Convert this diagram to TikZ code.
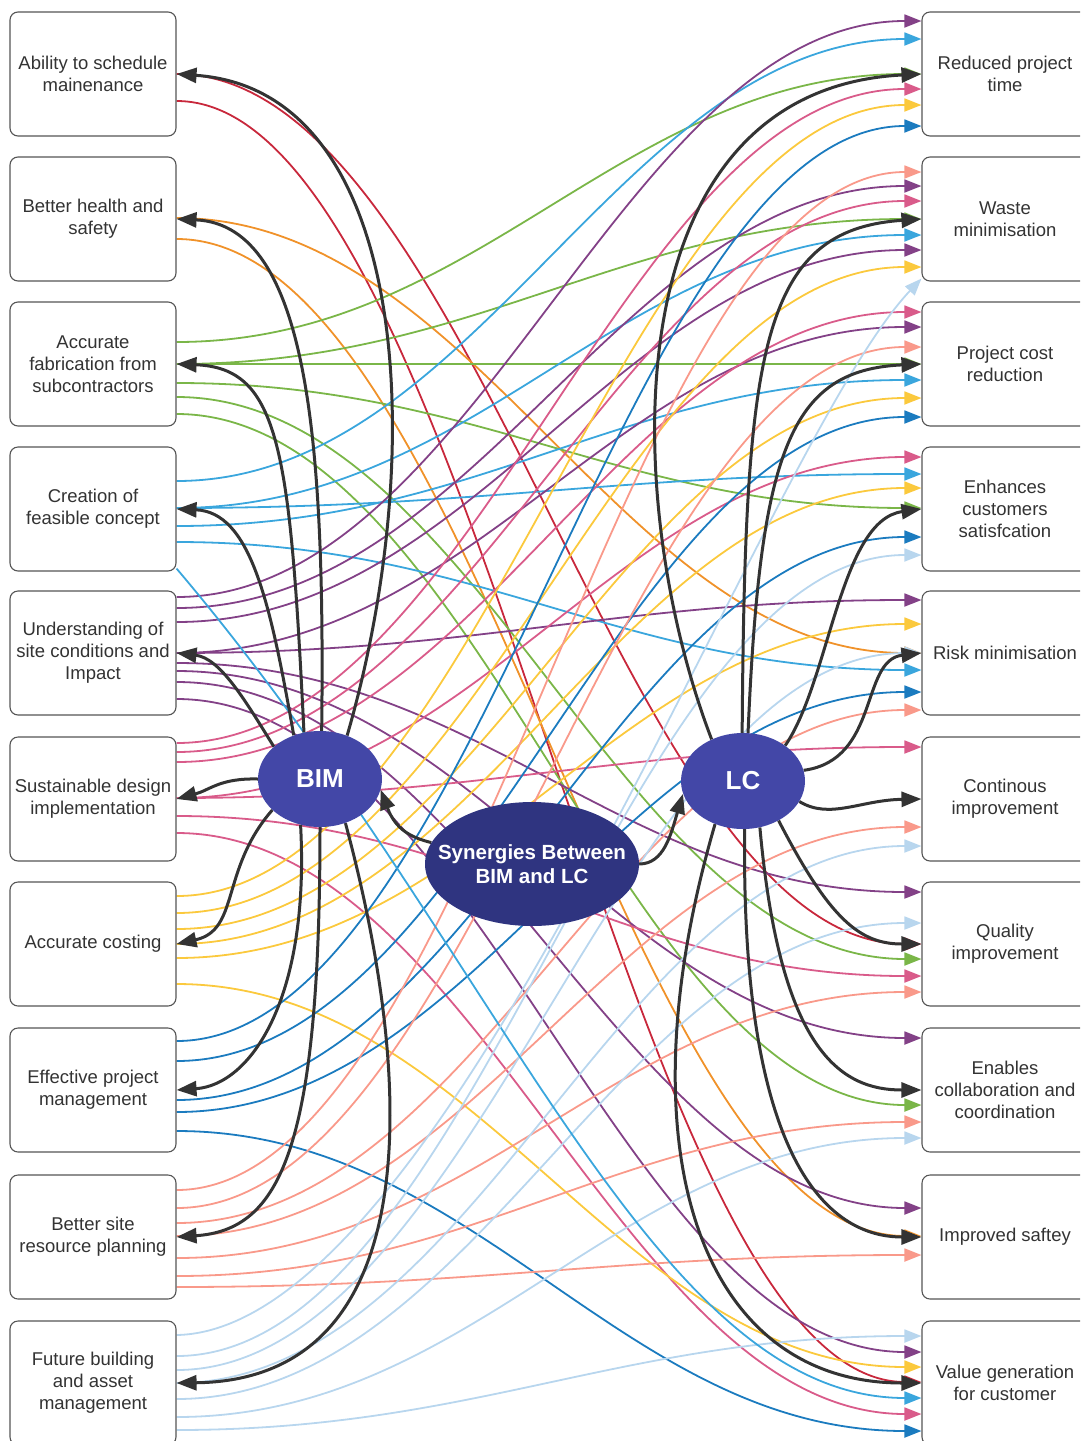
\documentclass[tikz,border=0pt]{standalone}
\usepackage{fontspec}
\setmainfont{Liberation Sans}
\usetikzlibrary{arrows.meta,shapes.geometric,calc}
\definecolor{cred}{HTML}{C8283C}
\definecolor{corange}{HTML}{F0922A}
\definecolor{cgreen}{HTML}{7AB648}
\definecolor{clblue}{HTML}{3AA6DD}
\definecolor{cpurple}{HTML}{834187}
\definecolor{cpink}{HTML}{D95B8A}
\definecolor{cyellow}{HTML}{FBC93D}
\definecolor{cdblue}{HTML}{1B7BBF}
\definecolor{csalmon}{HTML}{F9998A}
\definecolor{cpale}{HTML}{B8D6EE}
\definecolor{cblack}{HTML}{333333}
\definecolor{cbim}{HTML}{4347A7}
\definecolor{csyn}{HTML}{2F3480}
\definecolor{cborder}{HTML}{555555}
\pgfdeclarelayer{bg}
\pgfsetlayers{bg,main}
\begin{document}
\begin{tikzpicture}[x=1pt,y=-1pt,
  box/.style={draw=cborder,line width=1.1pt,rounded corners=8pt,fill=white,
    minimum width=166pt,minimum height=124pt,align=center,text=cblack,
    font=\fontsize{18.5}{22}\selectfont,inner sep=2pt},
  hub/.style={ellipse,fill=cbim,text=white,minimum width=124pt,minimum height=96pt,
    inner sep=0pt,font=\fontsize{26}{30}\selectfont\bfseries},
  synhub/.style={ellipse,fill=csyn,minimum width=214pt,minimum height=124pt,inner sep=0pt},
  syntext/.style={text=white,align=center,inner sep=0pt,font=\fontsize{20.5}{24.5}\selectfont\bfseries},
  link/.style={line width=1.8pt,-{Triangle[length=17pt,width=13pt]}},
  blk/.style={line width=3pt,draw=cblack,-{Triangle[length=20pt,width=15pt]}}]
\useasboundingbox (0,0) rectangle (1080,1441);
\clip (0,0) rectangle (1080,1441);

% left boxes
\node[box] (L1) at (93,74) {Ability to schedule\\mainenance};
\node[box] (L2) at (93,219) {Better health and\\safety};
\node[box] (L3) at (93,364) {Accurate\\fabrication from\\subcontractors};
\node[box] (L4) at (93,509) {Creation of\\feasible concept};
\node[box] (L5) at (93,653) {Understanding of\\site conditions and\\Impact};
\node[box] (L6) at (93,799) {Sustainable design\\implementation};
\node[box] (L7) at (93,944) {Accurate costing};
\node[box] (L8) at (93,1090) {Effective project\\management};
\node[box] (L9) at (93,1237) {Better site\\resource planning};
\node[box] (L10) at (93,1383) {Future building\\and asset\\management};
% right boxes
\node[box] (R1) at (1005,74) {Reduced project\\time};
\node[box] (R2) at (1005,219) {Waste\\minimisation};
\node[box] (R3) at (1005,364) {Project cost\\reduction};
\node[box] (R4) at (1005,509) {Enhances\\customers\\satisfcation};
\node[box] (R5) at (1005,653) {Risk minimisation};
\node[box] (R6) at (1005,799) {Continous\\improvement};
\node[box] (R7) at (1005,944) {Quality\\improvement};
\node[box] (R8) at (1005,1090) {Enables\\collaboration and\\coordination};
\node[box] (R9) at (1005,1237) {Improved saftey};
\node[box] (R10) at (1005,1383) {Value generation\\for customer};
% hubs
\node[hub] (BIM) at (320,779) {BIM};
\node[hub] (LC) at (743,781) {LC};
\node[synhub] (SYN) at (532,864) {};
\node[syntext] (SYNT) at (SYN.center) {Synergies Between\\BIM and LC};

\begin{pgfonlayer}{bg}
\foreach \a/\da/\b/\db/\c in {
  1/0/7/0/cred, 1/27/10/-1/cred,
  2/-1/5/0/corange, 2/20/9/-1/corange,
  3/-22/1/0/cgreen, 3/0/2/0/cgreen, 3/0/3/0/cgreen, 3/19/4/-1/cgreen, 3/33/7/15/cgreen, 3/50/8/15/cgreen,
  4/-28/1/-35/clblue, 4/-1/2/16/clblue, 4/-1/4/-35/clblue, 4/17/3/16/clblue, 4/33/5/17/clblue,
  5/-56/1/-53/cpurple, 5/-45/2/-33/cpurple, 5/-31/2/31/cpurple, 5/0/3/-37/cpurple, 5/0/5/-53/cpurple,
  5/10/7/-52/cpurple, 5/18/8/-52/cpurple, 5/29/9/-29/cpurple, 5/46/10/-31/cpurple,
  6/-56/1/15/cpink, 6/-47/2/-18/cpink, 6/-37/3/-52/cpink, 6/-1/4/-52/cpink, 6/-1/6/-52/cpink,
  6/17/7/32/cpink, 6/34/10/31/cpink,
  7/-48/1/31/cyellow, 7/-31/2/48/cyellow, 7/-15/3/34/cyellow, 7/0/4/-21/cyellow, 7/14/5/-29/cyellow, 7/40/10/-16/cyellow,
  8/-49/1/52/cdblue, 8/-29/3/53/cdblue, 8/10/4/28/cdblue, 8/22/5/39/cdblue, 8/41/10/48/cdblue,
  9/-47/2/-47/csalmon, 9/-29/3/-17/csalmon, 9/-14/5/57/csalmon, 9/-1/6/28/csalmon, 9/21/7/48/csalmon,
  9/39/8/32/csalmon, 9/50/9/18/csalmon,
  10/-27/4/46/cpale, 10/-13/5/0/cpale, 10/0/6/47/cpale, 10/16/7/-21/cpale, 10/34/8/48/cpale, 10/47/10/-47/cpale}
  {\draw[link,draw=\c] ($(L\a.east)+(0,\da)$) .. controls +(300,0) and +(-300,0) .. ($(R\b.west)+(0,\db)$);}
\draw[link,draw=clblue] ($(L4.south east)+(0,-3)$) .. controls (500,950) and (650,1398) .. ($(R10.west)+(0,15)$);
\draw[link,draw=cpale] ($(L10.east)+(0,-48)$) .. controls (450,1330) and (760,450) .. ($(R2.south west)+(0,-3)$);

% BIM to left boxes
\draw[blk] (BIM.58) .. controls (430,450) and (410,90) .. (L1.east);
\draw[blk] (BIM.88) .. controls (325,450) and (310,225) .. (L2.east);
\draw[blk] (BIM.109) .. controls (290,450) and (280,368) .. (L3.east);
\draw[blk] (BIM.121) .. controls (270,600) and (250,512) .. (L4.east);
\draw[blk] (BIM.145) .. controls (245,700) and (220,658) .. (L5.east);
\draw[blk] (BIM.180) .. controls (220,778) and (210,790) .. (L6.east);
\draw[blk] (BIM.213) .. controls (220,870) and (240,930) .. (L7.east);
\draw[blk] (BIM.247) .. controls (310,1000) and (250,1085) .. (L8.east);
\draw[blk] (BIM.270) .. controls (320,1150) and (280,1230) .. (L9.east);
\draw[blk] (BIM.300) .. controls (420,1100) and (420,1380) .. (L10.east);
% LC to right boxes
\draw[blk] (LC.127) .. controls (620,500) and (610,90) .. (R1.west);
\draw[blk] (LC.91) .. controls (745,350) and (760,230) .. (R2.west);
\draw[blk] (LC.84) .. controls (760,450) and (790,370) .. (R3.west);
\draw[blk] (LC.40) .. controls (830,680) and (840,520) .. (R4.west);
\draw[blk] (LC.10) .. controls (880,760) and (860,660) .. (R5.west);
\draw[blk] (LC.-20) .. controls (830,820) and (860,800) .. (R6.west);
\draw[blk] (LC.-48) .. controls (830,920) and (860,944) .. (R7.west);
\draw[blk] (LC.-70) .. controls (780,1050) and (840,1090) .. (R8.west);
\draw[blk] (LC.-88) .. controls (740,1200) and (850,1237) .. (R9.west);
\draw[blk] (LC.-123) .. controls (620,1150) and (700,1383) .. (R10.west);
% synergies to hubs
\draw[blk] (SYN.168) .. controls +(-20,-5) and +(15,40) .. (BIM.-10);
\draw[blk] (SYN.east) .. controls +(25,0) and +(-12,40) .. (LC.192);
\end{pgfonlayer}
\end{tikzpicture}
\end{document}
